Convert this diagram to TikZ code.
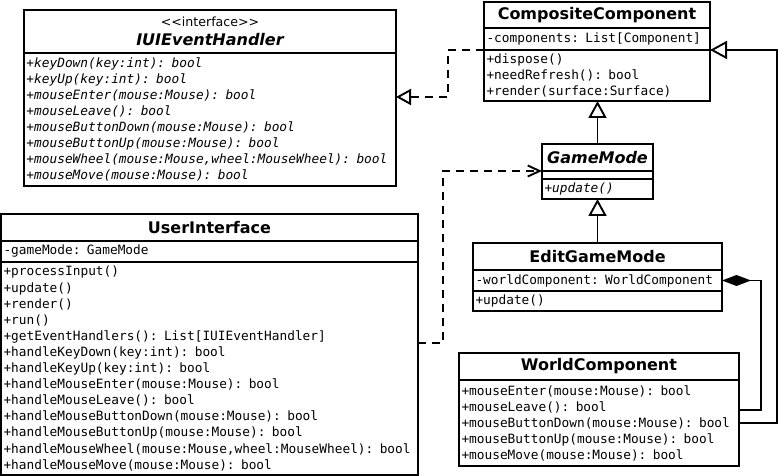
\documentclass[tikz,border=0pt]{standalone}
\usepackage{fontspec}
\setmainfont{DejaVu Sans}
\setmonofont{DejaVu Sans Mono}
\usepackage{tikz}
\usetikzlibrary{arrows.meta, calc}

\begin{document}
\begin{tikzpicture}[
    x=1pt, y=-1pt,
    box/.style={draw, line width=1.9pt, outer sep=0pt, anchor=north west, inner xsep=2.5pt, inner ysep=0pt},
    title/.style={box, align=center, font=\bfseries\fontsize{16}{19}\selectfont},
    members/.style={box, align=left, font=\ttfamily\fontsize{12.8}{16}\selectfont},
    generalize/.style={line width=1.9pt, -{Triangle[open, length=17pt, width=18pt]}},
    realize/.style={line width=1.9pt, dash pattern=on 8pt off 6pt, -{Triangle[open, length=15pt, width=16pt]}},
    depend/.style={line width=1.9pt, dash pattern=on 8pt off 6pt, -{Straight Barb[length=12pt, width=11pt]}},
    compose/.style={line width=1.9pt, {Diamond[length=29pt, width=11pt]}-}
]
    \useasboundingbox (0,0) rectangle (780,476);

    % Interface
    \node[box, align=center, font=\fontsize{16}{19}\selectfont, minimum width=372, minimum height=43] (ieh) at (24,10)
        {{\fontsize{12.6}{14}\selectfont <\kern0pt<interface>\kern0pt>}\\{\bfseries\itshape IUIEventHandler}};
    \node[members, font=\ttfamily\itshape\fontsize{12.8}{16.1}\selectfont, text width=367, minimum width=372, minimum height=133] (ieh-ops) at (ieh.south west)
        {+keyDown(key:int): bool\\+keyUp(key:int): bool\\+mouseEnter(mouse:Mouse): bool\\+mouseLeave(): bool\\+mouseButtonDown(mouse:Mouse): bool\\+mouseButtonUp(mouse:Mouse): bool\\+mouseWheel(mouse:Mouse,wheel:MouseWheel): bool\\+mouseMove(mouse:Mouse): bool};

    % Composite
    \node[title, minimum width=226, minimum height=26] (cc) at (484,2) {CompositeComponent};
    \node[members, text width=221, minimum width=226, minimum height=22] (cc-attr) at (cc.south west) {-components: List[Component]};
    \node[members, text width=221, minimum width=226, minimum height=51] (cc-ops) at (cc-attr.south west)
        {+dispose()\\+needRefresh(): bool\\+render(surface:Surface)};

    % Game modes
    \node[title, font=\bfseries\itshape\fontsize{16}{19}\selectfont, minimum width=111, minimum height=27] (gm) at (542,144) {GameMode};
    \node[members, text width=106, minimum width=111, minimum height=8] (gm-attr) at (gm.south west) {};
    \node[members, font=\ttfamily\itshape\fontsize{12.8}{16}\selectfont, text width=106, minimum width=111, minimum height=20] (gm-ops) at (gm-attr.south west) {+update()};

    \node[title, minimum width=249, minimum height=27] (egm) at (473,243) {EditGameMode};
    \node[members, text width=244, minimum width=249, minimum height=21] (egm-attr) at (egm.south west) {-worldComponent: WorldComponent};
    \node[members, text width=244, minimum width=249, minimum height=20] (egm-ops) at (egm-attr.south west) {+update()};

    % User interface
    \node[title, minimum width=417, minimum height=27] (ui) at (1,214) {UserInterface};
    \node[members, text width=412, minimum width=417, minimum height=21] (ui-attr) at (ui.south west) {-gameMode: GameMode};
    \node[members, font=\ttfamily\fontsize{12.8}{16.1}\selectfont, text width=412, minimum width=417, minimum height=213] (ui-ops) at (ui-attr.south west)
        {+processInput()\\+update()\\+render()\\+run()\\+getEventHandlers(): List[IUIEventHandler]\\+handleKeyDown(key:int): bool\\+handleKeyUp(key:int): bool\\+handleMouseEnter(mouse:Mouse): bool\\+handleMouseLeave(): bool\\+handleMouseButtonDown(mouse:Mouse): bool\\+handleMouseButtonUp(mouse:Mouse): bool\\+handleMouseWheel(mouse:Mouse,wheel:MouseWheel): bool\\+handleMouseMove(mouse:Mouse): bool};

    % World
    \node[title, minimum width=280, minimum height=27] (wc) at (459,353) {WorldComponent};
    \node[members, text width=275, minimum width=280, minimum height=86] (wc-ops) at (wc.south west)
        {+mouseEnter(mouse:Mouse): bool\\+mouseLeave(): bool\\+mouseButtonDown(mouse:Mouse): bool\\+mouseButtonUp(mouse:Mouse): bool\\+mouseMove(mouse:Mouse): bool};

    % Arrows
    \draw[realize] (cc-ops.north west) -- ++(-36,0) |- (ieh-ops.east |- 0,97);
    \draw[depend] (ui-ops.east |- 0,343) -- (443,343) |- (gm-attr.north west);
    \draw[generalize] (gm.north) -- (gm.north |- cc-ops.south);
    \draw[generalize] (egm.north) -- (egm.north |- gm-ops.south);
    \draw[compose] (egm-attr.east) -- ++(39,0) |- (wc-ops.east |- 0,410);
    \draw[generalize] (wc-ops.east |- 0,423) -- (777,423) |- (cc-ops.north east);

\end{tikzpicture}
\end{document}
